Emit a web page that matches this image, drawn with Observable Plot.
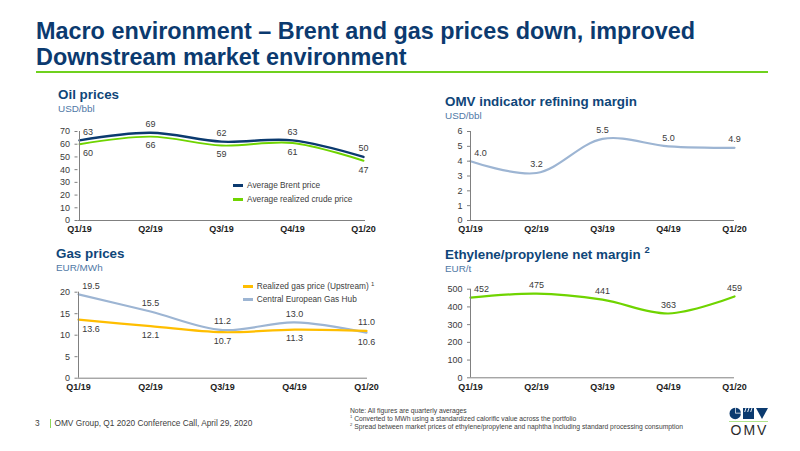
<!DOCTYPE html>
<html lang="en"><head><meta charset="utf-8">
<script src="https://cdn.jsdelivr.net/npm/d3@7"></script>
<script src="https://cdn.jsdelivr.net/npm/@observablehq/plot@0.6"></script>
<style>
html,body{margin:0;padding:0;background:#fff;width:800px;height:451px;overflow:hidden;font-family:"Liberation Sans",Arial,sans-serif}
.t{position:absolute;white-space:nowrap;line-height:1}
.h{font-weight:bold;font-size:13.4px;color:#0f4679}
.u{font-size:9.9px;color:#4f78a6}
.lg{font-size:8.3px;color:#404040}
.sw{position:absolute;height:2.4px}
.n{font-size:6.75px;color:#404040}
sup{font-size:.62em;line-height:0}
#chart svg{position:absolute;overflow:visible}
</style></head><body>
<div class="t" style="left:36px;top:18px;font-size:23.4px;font-weight:bold;color:#0b3a6f;line-height:26px">Macro environment – Brent and gas prices down, improved<br>Downstream market environment</div>
<div style="position:absolute;left:36px;top:71px;width:732px;height:2px;background:#6fd11e"></div>
<div id="chart"></div>
<div class="t h" style="left:58px;top:88px">Oil prices</div><div class="t u" style="left:58px;top:104px">USD/bbl</div>
<div class="t h" style="left:445px;top:95px">OMV indicator refining margin</div><div class="t u" style="left:445px;top:111px">USD/bbl</div>
<div class="t h" style="left:56px;top:247px">Gas prices</div><div class="t u" style="left:56px;top:263px">EUR/MWh</div>
<div class="t h" style="left:445px;top:248px">Ethylene/propylene net margin <sup style="font-size:.7em;position:relative;top:-1px">2</sup></div><div class="t u" style="left:445px;top:264px">EUR/t</div>
<div id="legends"></div>
<div class="t n" style="left:350px;top:408px">Note: All figures are quarterly averages</div>
<div class="t n" style="left:350px;top:416px"><sup>1</sup> Converted to MWh using a standardized calorific value across the portfolio</div>
<div class="t n" style="left:350px;top:424px"><sup>2</sup> Spread between market prices of ethylene/propylene and naphtha including standard processing consumption</div>
<div class="t" style="left:35px;top:419px;font-size:8.3px;color:#404040">3</div>
<div style="position:absolute;left:50px;top:419px;width:1px;height:9px;background:#8fd85a"></div>
<div class="t" style="left:54.5px;top:419px;font-size:8.3px;color:#404040">OMV Group, Q1 2020 Conference Call, April 29, 2020</div>
<svg style="position:absolute;left:729px;top:407px" width="40" height="30" viewBox="0 0 40 30">
<path d="M6.2 .8a5.7 5.7 0 1 0 5.7 5.7H6.2z" fill="#0b3a6f"/><path d="M6.9 .8a5.7 5.7 0 0 1 5 5h-5z" fill="#0b3a6f"/>
<path d="M14 1h11v11H14z" fill="#0b3a6f"/><path d="M17 1l-1.3 4M20 1l-1.3 4M23 1l-1.3 4" stroke="#fff" stroke-width=".9"/>
<path d="M27 1h12l-6 11z" fill="#0b3a6f"/>
<rect x="0" y="14.3" width="39" height=".7" fill="#8fd85a"/>
<text x="20.5" y="28" text-anchor="middle" font-family="Liberation Sans" font-size="14" letter-spacing="2" fill="#2b2b2b">OMV</text>
</svg>
<script>
const quarters = ["Q1/19","Q2/19","Q3/19","Q4/19","Q1/20"];
const brent = [63,69,62,63,50];
const realizedCrude = [60,66,59,61,47];
const refiningMargin = [4.0,3.2,5.5,5.0,4.9];
const realizedGas = [13.6,12.1,10.7,11.3,11.0];
const gasHub = [19.5,15.5,11.2,13.0,10.6];
const ethylene = [452,475,441,363,459];
const oilTicks = [0,10,20,30,40,50,60,70];
const marginTicks = [0,1,2,3,4,5,6];
const gasTicks = [0,5,10,15,20];
const ethyleneTicks = [0,100,200,300,400,500];
const navy="#0b3a6f", green="#6fd400", steel="#9db5d3", amber="#ffbe00", ink="#3a3a3a", axisGray="#808080";

function panel({left,top,x0,x1,y0,y1,ticks,series,firstDx,digits}){
  const width=x1-left+30, height=y0-top+18;
  const labelMarks=series.flatMap(s=>{
    const rows=s.values.map((v,i)=>({q:quarters[i],v,i,above:s.other?v>=s.other[i]:s.above}));
    return [true,false].flatMap(above=>[
      Plot.text(rows.filter(r=>r.above===above&&r.i>0),{x:"q",y:"v",text:r=>r.v.toFixed(digits),dy:above?-8.5:9,fontSize:9,fill:ink}),
      Plot.text(rows.filter(r=>r.above===above&&r.i===0),{x:"q",y:"v",text:r=>r.v.toFixed(digits),dy:above?-8.5:9,dx:firstDx,fontSize:9,fill:ink})
    ]);
  });
  const svg=Plot.plot({
    width,height,marginLeft:x0-left,marginRight:left+width-x1,marginTop:y1-top,marginBottom:height-(y0-top),
    style:{fontFamily:"'Liberation Sans',Arial,sans-serif",background:"transparent"},
    x:{type:"point",domain:quarters,padding:0},
    y:{domain:[ticks[0],ticks[ticks.length-1]]},
    marks:[
      ...series.map(s=>Plot.line(s.values.map((v,i)=>({q:quarters[i],v})),{x:"q",y:"v",stroke:s.color,strokeWidth:s.w||2.2,curve:"catmull-rom"})),
      Plot.ruleY([ticks[0]],{stroke:axisGray,strokeWidth:1}),
      Plot.ruleX([quarters[0]],{stroke:axisGray,strokeWidth:1}),
      Plot.axisY({ticks,tickSize:3,tickPadding:5,stroke:axisGray,fill:ink,fontSize:9,label:null,tickFormat:d=>d}),
      Plot.axisX({tickSize:0,tickPadding:5.5,fill:"#222",fontSize:9,fontWeight:"bold",label:null}),
      ...labelMarks
    ]
  });
  svg.style.left=left+"px";svg.style.top=top+"px";
  document.getElementById("chart").append(svg);
}
panel({left:40,top:115,x0:77.5,x1:365,y0:220,y1:131,ticks:oilTicks,firstDx:8.5,digits:0,series:[
  {values:brent,color:navy,above:true,w:2.4},{values:realizedCrude,color:green,above:false,w:1.9}]});
panel({left:435,top:115,x0:470,x1:734,y0:220,y1:131,ticks:marginTicks,firstDx:10,digits:1,series:[
  {values:refiningMargin,color:steel,above:true}]});
panel({left:40,top:275,x0:77.5,x1:367,y0:377.7,y1:291.7,ticks:gasTicks,firstDx:12.5,digits:1,series:[
  {values:gasHub,color:steel,other:realizedGas},{values:realizedGas,color:amber,other:gasHub}]});
panel({left:435,top:275,x0:470,x1:734,y0:377.3,y1:288.7,ticks:ethyleneTicks,firstDx:11,digits:0,series:[
  {values:ethylene,color:green,above:true}]});

const legendItems=[
  {name:"Average Brent price",color:navy,sx:233,tx:247,y:185.5},
  {name:"Average realized crude price",color:green,sx:233,tx:247,y:199.5},
  {name:"Realized gas price (Upstream)",color:amber,sx:243,tx:256.7,y:286.5},
  {name:"Central European Gas Hub",color:steel,sx:243,tx:256.7,y:299.5}];
const lg=document.getElementById("legends");
for(const l of legendItems){
  lg.insertAdjacentHTML("beforeend",`<div class="sw" style="left:${l.sx}px;top:${l.y-1.2}px;width:9.5px;background:${l.color}"></div><div class="t lg" style="left:${l.tx}px;top:${l.y-4.2}px">${l.name}</div>`);
}
lg.insertAdjacentHTML("beforeend",`<div class="t" style="left:371px;top:281px;font-size:6px;color:#404040">1</div>`);
</script>
</body></html>
